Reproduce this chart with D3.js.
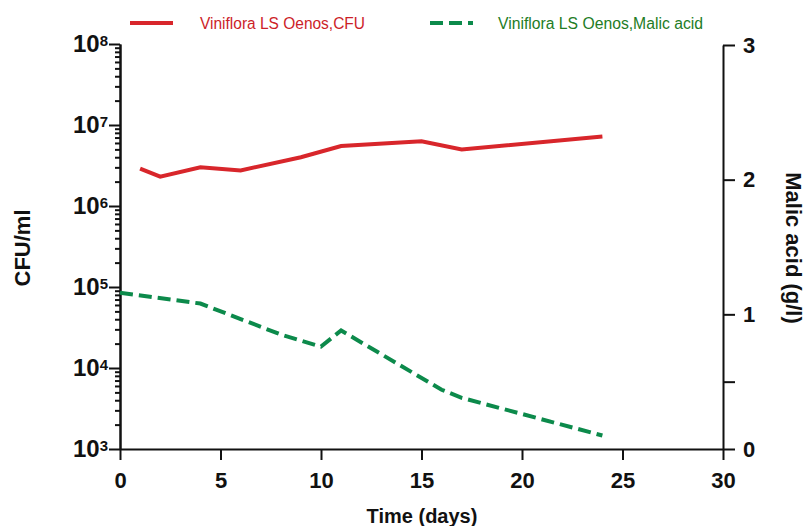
<!DOCTYPE html>
<html>
<head>
<meta charset="utf-8">
<script src="https://cdn.jsdelivr.net/npm/d3@7"></script>
<style>
  body { margin: 0; background: #fff; }
  svg { display: block; font-family: Arial, "Liberation Sans", sans-serif; }
  .tick-label { font-weight: bold; font-size: 22px; fill: #111; }
  .axis-title { font-weight: bold; fill: #111; }
</style>
</head>
<body>
<div id="chart"></div>
<script>
// Viniflora LS Oenos - CFU (log, left) and malic acid (right) over time

// Data
const cfuDays = [1, 2, 4, 6, 9, 11, 15, 17, 24];
const cfuValues = [2.9e6, 2.3e6, 3.0e6, 2.75e6, 4.0e6, 5.5e6, 6.3e6, 5.0e6, 7.2e6];

const malicDays = [0, 4, 8, 10, 11, 16, 17, 24];
const malicValues = [1.16, 1.08, 0.85, 0.76, 0.88, 0.44, 0.38, 0.10];

const xTicks = [0, 5, 10, 15, 20, 25, 30];
const leftDecades = [3, 4, 5, 6, 7, 8];
const rightTicks = [0, 0.5, 1, 2, 3];
const rightLabels = [0, 1, 2, 3];

const seriesNames = ['Viniflora LS Oenos,CFU', 'Viniflora LS Oenos,Malic acid'];

// Colours
const red = '#d8262b';
const green = '#0c8a4b';
const redText = '#cc1e28';
const greenText = '#237c25';

const width = 809;
const height = 526;
const plot = { left: 120, right: 723, top: 44, bottom: 449 };

const svg = d3.select('#chart')
  .append('svg')
  .attr('width', width)
  .attr('height', height);

// Scales
const x = d3.scaleLinear().domain([0, 30]).range([plot.left, plot.right]);
const yLeft = d3.scaleLog().domain([1e3, 1e8]).range([plot.bottom, plot.top]);
const yRight = d3.scaleLinear().domain([0, 3]).range([plot.bottom, plot.top + 1]);

function styleAxis(g) {
  g.select('.domain').attr('stroke', '#111').attr('stroke-width', 2);
  g.selectAll('.tick line').attr('stroke', '#111').attr('stroke-width', 2);
}

// Left log axis: minor ticks first, then major ticks with 10^n labels
const minorValues = [];
leftDecades.slice(0, -1).forEach(n => {
  for (let m = 2; m <= 9; m++) minorValues.push(m * Math.pow(10, n));
});

svg.append('g')
  .attr('transform', `translate(${plot.left},0)`)
  .call(d3.axisLeft(yLeft).tickValues(minorValues).tickSize(5).tickSizeOuter(0).tickFormat(''))
  .call(styleAxis);

const leftAxis = svg.append('g')
  .attr('transform', `translate(${plot.left},0)`)
  .call(d3.axisLeft(yLeft)
    .tickValues(leftDecades.map(n => Math.pow(10, n)))
    .tickSize(11)
    .tickSizeOuter(0)
    .tickFormat(''))
  .call(styleAxis);

leftAxis.selectAll('.tick').each(function(d) {
  const t = d3.select(this).append('text')
    .attr('class', 'tick-label')
    .attr('x', -12)
    .attr('dy', '0.32em')
    .style('font-size', '24px')
    .attr('text-anchor', 'end');
  t.append('tspan').text('10');
  t.append('tspan')
    .attr('dy', '-0.42em')
    .style('font-size', '15px')
    .text(Math.round(Math.log10(d)));
});

// Bottom axis
const bottomAxis = svg.append('g')
  .attr('transform', `translate(0,${plot.bottom})`)
  .call(d3.axisBottom(x).tickValues(xTicks).tickSize(11).tickSizeOuter(0).tickPadding(12))
  .call(styleAxis);
bottomAxis.selectAll('.tick text').attr('class', 'tick-label').attr('font-size', null).attr('font-family', null);

// Right axis
const rightAxis = svg.append('g')
  .attr('transform', `translate(${plot.right},0)`)
  .call(d3.axisRight(yRight)
    .tickValues(rightTicks)
    .tickSize(12)
    .tickSizeOuter(0)
    .tickPadding(8)
    .tickFormat(d => rightLabels.includes(d) ? d : ''))
  .call(styleAxis);
rightAxis.selectAll('.tick text').attr('class', 'tick-label').attr('font-size', null).attr('font-family', null);

// Axis titles
svg.append('text')
  .attr('class', 'axis-title')
  .attr('x', 422)
  .attr('y', 523)
  .attr('text-anchor', 'middle')
  .attr('font-size', '20px')
  .text('Time (days)');

svg.append('text')
  .attr('class', 'axis-title')
  .attr('transform', 'translate(30,248) rotate(-90)')
  .attr('text-anchor', 'middle')
  .attr('font-size', '22px')
  .text('CFU/ml');

svg.append('text')
  .attr('class', 'axis-title')
  .attr('transform', 'translate(786,248) rotate(90)')
  .attr('text-anchor', 'middle')
  .attr('font-size', '22px')
  .text('Malic acid (g/l)');

// Lines
const cfuLine = d3.line()
  .x((d, i) => x(cfuDays[i]))
  .y(d => yLeft(d));

const malicLine = d3.line()
  .x((d, i) => x(malicDays[i]))
  .y(d => yRight(d));

svg.append('path')
  .datum(cfuValues)
  .attr('d', cfuLine)
  .attr('fill', 'none')
  .attr('stroke', red)
  .attr('stroke-width', 4);

svg.append('path')
  .datum(malicValues)
  .attr('d', malicLine)
  .attr('fill', 'none')
  .attr('stroke', green)
  .attr('stroke-width', 4)
  .attr('stroke-dasharray', '13,6');

// Legend
const legend = svg.append('g');

legend.append('line')
  .attr('x1', 130).attr('x2', 173)
  .attr('y1', 23).attr('y2', 23)
  .attr('stroke', red)
  .attr('stroke-width', 4);

legend.append('text')
  .attr('x', 200)
  .attr('y', 29)
  .attr('font-size', '16px')
  .attr('fill', redText)
  .attr('textLength', 165)
  .attr('lengthAdjust', 'spacingAndGlyphs')
  .text(seriesNames[0]);

legend.append('line')
  .attr('x1', 430).attr('x2', 473)
  .attr('y1', 23).attr('y2', 23)
  .attr('stroke', green)
  .attr('stroke-width', 4)
  .attr('stroke-dasharray', '13,6');

legend.append('text')
  .attr('x', 498)
  .attr('y', 29)
  .attr('font-size', '16px')
  .attr('fill', greenText)
  .attr('textLength', 205)
  .attr('lengthAdjust', 'spacingAndGlyphs')
  .text(seriesNames[1]);
</script>
</body>
</html>
